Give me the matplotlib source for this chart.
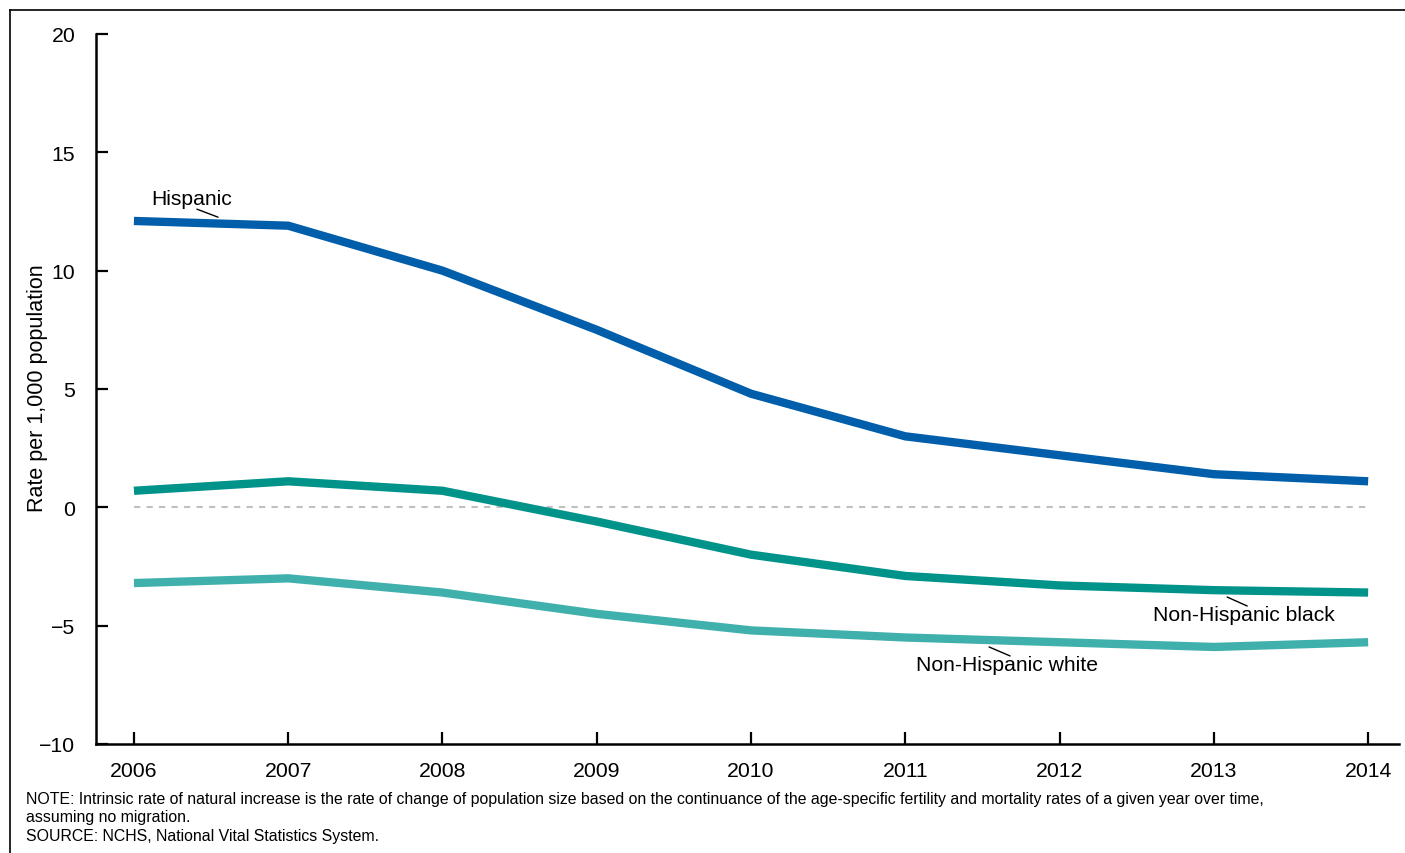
import matplotlib.pyplot as plt
from matplotlib.lines import Line2D

plt.rcParams['font.family'] = ['Liberation Sans', 'DejaVu Sans']

# Datos
anios = [2006, 2007, 2008, 2009, 2010, 2011, 2012, 2013, 2014]
hispanic = [12.1, 11.9, 10.0, 7.5, 4.8, 3.0, 2.2, 1.4, 1.1]
nh_black = [0.7, 1.1, 0.7, -0.6, -2.0, -2.9, -3.3, -3.5, -3.6]
nh_white = [-3.2, -3.0, -3.6, -4.5, -5.2, -5.5, -5.7, -5.9, -5.7]
yticks = [-10, -5, 0, 5, 10, 15, 20]
ytick_labels = ['\u221210', '\u22125', '0', '5', '10', '15', '20']

fig = plt.figure(figsize=(14.05, 8.54), dpi=100)
ax = fig.add_axes([96 / 1405, 1 - 745 / 854, (1399 - 96) / 1405, (745 - 35) / 854])

# marco de la figura (solo arriba e izquierda)
fig.add_artist(Line2D([10 / 1405, 10 / 1405], [0, 1 - 11 / 854], color='black', lw=1.2,
                      transform=fig.transFigure))
fig.add_artist(Line2D([10 / 1405, 1], [1 - 11 / 854, 1 - 11 / 854], color='black', lw=1.2,
                      transform=fig.transFigure))

ax.plot([anios[0], anios[-1]], [0, 0], color='#c0c0c0', lw=1.5, ls=(0, (3, 3)), zorder=1)
ax.plot(anios, nh_white, color='#40b0ac', lw=6, solid_joinstyle='miter', solid_capstyle='butt', zorder=2)
ax.plot(anios, nh_black, color='#00938a', lw=6, solid_joinstyle='miter', solid_capstyle='butt', zorder=3)
ax.plot(anios, hispanic, color='#005eaa', lw=6, solid_joinstyle='miter', solid_capstyle='butt', zorder=4)

ax.set_xlim(2005.754, 2014.2)
ax.set_ylim(-10, 20)
ax.set_xticks(anios)
ax.set_xticklabels([str(a) for a in anios])
ax.set_yticks(yticks)
ax.set_yticklabels(ytick_labels)
ax.tick_params(axis='both', direction='in', length=8.5, width=1.6, labelsize=15.3)
ax.tick_params(axis='x', pad=12.5)
ax.tick_params(axis='y', pad=15)
for lado in ['top', 'right']:
    ax.spines[lado].set_visible(False)
for lado in ['left', 'bottom']:
    ax.spines[lado].set_linewidth(1.8)

ax.set_ylabel('Rate per 1,000 population', fontsize=15.5)
ax.yaxis.set_label_coords(-0.0368, 0.503)

# etiquetas de series con linea guia
etiquetas = [
    ('Hispanic', (2006.376, 13.07), (2006.408, 12.60), (2006.545, 12.26)),
    ('Non-Hispanic black', (2013.193, -4.51), (2013.086, -3.79), (2013.216, -4.17)),
    ('Non-Hispanic white', (2011.656, -6.62), (2011.543, -5.90), (2011.679, -6.28)),
]
for texto, pos, p1, p2 in etiquetas:
    ax.text(pos[0], pos[1], texto, fontsize=15.2, ha='center', va='center', zorder=5)
    ax.annotate('', xy=p1, xytext=p2,
                arrowprops=dict(arrowstyle='-', color='black', lw=1, shrinkA=0, shrinkB=0))

fig.text(26 / 1405, 1 - 818 / 854,
         'NOTE: Intrinsic rate of natural increase is the rate of change of population size based on the '
         'continuance of the age-specific fertility and mortality rates of a given year over time,\n'
         'assuming no migration.\nSOURCE: NCHS, National Vital Statistics System.',
         fontsize=11.4, va='center', ha='left', linespacing=1.32)

fig.savefig('out.png', dpi=100)
